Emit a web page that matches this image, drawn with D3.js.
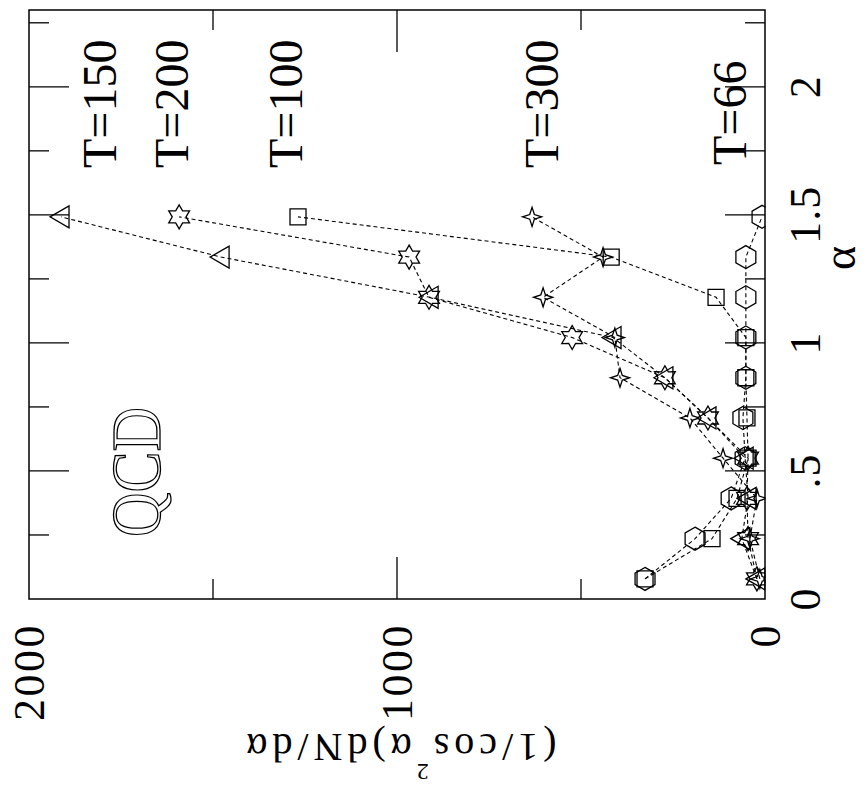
<!DOCTYPE html>
<html><head><meta charset="utf-8">
<script src="https://cdn.jsdelivr.net/npm/d3@7"></script>
<style>body{margin:0;background:#fff}svg{display:block}</style></head>
<body><svg id="c" width="867" height="788"></svg>
<script>
// ---- data ----
const alphaBins = [0.0785, 0.2356, 0.3927, 0.5498, 0.7069, 0.8639, 1.0210, 1.1781, 1.3352, 1.4923];
const seriesNames = ["T=66", "T=100", "T=150", "T=200", "T=300"];
const valuesT66  = [326, 190, 92, 54, 60, 52, 52, 52, 52, 8];
const valuesT100 = [326, 144, 76, 46, 49, 52, 52, 133, 418, 1269];
const valuesT150 = [22, 63, 46, 54, 155, 272, 413, 910, 1478, 1913];
const valuesT200 = [22, 46, 49, 46, 155, 272, 524, 913, 967, 1592];
const valuesT300 = [14, 41, 22, 114, 204, 394, 408, 603, 440, 633];
const valueTickValues = [0, 1000, 2000];
const valueTickLabels = ["0", "1000", "2000"];
const alphaTickValues = [0, 0.5, 1, 1.5, 2];
const alphaTickLabels = ["0", ".5", "1", "1.5", "2"];

const svg = d3.select("#c");
const FONT = "'Liberation Serif','Times New Roman',serif";

// chart is drawn rotated: alpha runs upward, value runs leftward
const v = d3.scaleLinear().domain([0, 2000]).range([765, 29]);
const a = d3.scaleLinear().domain([0, 2.3]).range([599, 10]);

// frame
svg.append("rect").attr("x", v(2000)).attr("y", a(2.3))
  .attr("width", v(0) - v(2000)).attr("height", a(0) - a(2.3))
  .attr("fill", "none").attr("stroke", "#000").attr("stroke-width", 1.5);

// value-axis ticks (top & bottom, inward)
const vTicks = d3.range(500, 2000, 500);
vTicks.forEach(t => {
  const len = (t % 1000 === 0) ? 42 : 20;
  svg.append("line").attr("x1", v(t)).attr("x2", v(t)).attr("y1", a(0)).attr("y2", a(0) - len)
    .attr("stroke", "#000").attr("stroke-width", 1.3);
  svg.append("line").attr("x1", v(t)).attr("x2", v(t)).attr("y1", a(2.3)).attr("y2", a(2.3) + len)
    .attr("stroke", "#000").attr("stroke-width", 1.3);
});
// alpha-axis ticks (left & right, inward)
const aTicks = d3.range(0.25, 2.3, 0.25);
aTicks.forEach(t => {
  const major = Math.abs(t / 0.5 - Math.round(t / 0.5)) < 1e-6;
  const len = major ? 40 : 20;
  svg.append("line").attr("x1", v(2000)).attr("x2", v(2000) + len).attr("y1", a(t)).attr("y2", a(t))
    .attr("stroke", "#000").attr("stroke-width", 1.3);
  svg.append("line").attr("x1", v(0)).attr("x2", v(0) - len).attr("y1", a(t)).attr("y2", a(t))
    .attr("stroke", "#000").attr("stroke-width", 1.3);
});

// tick labels
valueTickValues.forEach((t, i) => {
  svg.append("text").attr("transform", `translate(${v(t) + 15},623) rotate(-90)`)
    .attr("text-anchor", "end").attr("font-family", FONT).attr("font-size", 44)
    .attr("letter-spacing", 2.5).text(valueTickLabels[i]);
});
alphaTickValues.forEach((t, i) => {
  svg.append("text").attr("transform", `translate(820,${a(t)}) rotate(-90)`)
    .attr("text-anchor", "middle").attr("font-family", FONT).attr("font-size", 44)
    .attr("letter-spacing", 1).text(alphaTickLabels[i]);
});

// axis titles
svg.append("text").attr("transform", "translate(855,258) rotate(-90)")
  .attr("text-anchor", "middle").attr("font-family", FONT).attr("font-size", 46).text("α");
const yt = svg.append("text").attr("transform", "translate(399,734) rotate(180)")
  .attr("text-anchor", "middle").attr("font-family", FONT).attr("font-size", 40)
  .attr("letter-spacing", 5);
yt.append("tspan").text("(1/cos");
yt.append("tspan").attr("font-size", 24).attr("dy", -30).text("2");
yt.append("tspan").attr("dy", 30).text("α)dN/dα");

// QCD
svg.append("text").attr("transform", "translate(160,537) rotate(-90)")
  .attr("font-family", FONT).attr("font-size", 70)
  .attr("textLength", 130).attr("lengthAdjust", "spacingAndGlyphs")
  .attr("fill", "none").attr("stroke", "#000").attr("stroke-width", 1.3).text("QCD");

// series labels
const labelX = [746, 302, 116, 188, 558];
const labelY = [165, 168, 168, 168, 168];
seriesNames.forEach((n, i) => {
  svg.append("text").attr("transform", `translate(${labelX[i]},${labelY[i]}) rotate(-90)`)
    .attr("font-family", FONT).attr("font-size", 48).text(n);
});

// marker shapes
function poly(pts) { return "M" + pts.map(p => p[0].toFixed(2) + "," + p[1].toFixed(2)).join("L") + "Z"; }
function star(n, R, r, rot) {
  const pts = [];
  for (let k = 0; k < 2 * n; k++) {
    const ang = rot + k * Math.PI / n;
    const rr = k % 2 === 0 ? R : r;
    pts.push([rr * Math.cos(ang), rr * Math.sin(ang)]);
  }
  return poly(pts);
}
const hexagon = (() => { const R = 11.5, p = []; for (let k = 0; k < 6; k++) { const g = -Math.PI / 2 + k * Math.PI / 3; p.push([R * Math.cos(g), R * Math.sin(g)]); } return poly(p); })();
const shapes = [
  hexagon,
  "M-8,-8h16v16h-16Z",
  poly([[-11, 0], [8, -11], [8, 11]]),
  star(6, 12, 6.9, -Math.PI / 2),
  star(4, 9.5, 3.3, 0)
];

const allValues = [valuesT66, valuesT100, valuesT150, valuesT200, valuesT300];
const line = d3.line().x(d => v(d[1])).y(d => a(d[0]));
allValues.forEach((vals, i) => {
  const pts = alphaBins.map((al, j) => [al, vals[j]]);
  svg.append("path").attr("d", line(pts)).attr("fill", "none").attr("stroke", "#000")
    .attr("stroke-width", 1.1).attr("stroke-dasharray", "4,3");
});
const clip = svg.append("clipPath").attr("id", "fr").append("rect")
  .attr("x", v(2000)).attr("y", a(2.3)).attr("width", v(0) - v(2000) + 0.5).attr("height", a(0) - a(2.3));
const mg = svg.append("g").attr("clip-path", "url(#fr)");
allValues.forEach((vals, i) => {
  alphaBins.forEach((al, j) => {
    mg.append("path").attr("d", shapes[i])
      .attr("transform", `translate(${v(vals[j])},${a(al)})`)
      .attr("fill", "none").attr("stroke", "#000").attr("stroke-width", 1.3);
  });
});
</script></body></html>
